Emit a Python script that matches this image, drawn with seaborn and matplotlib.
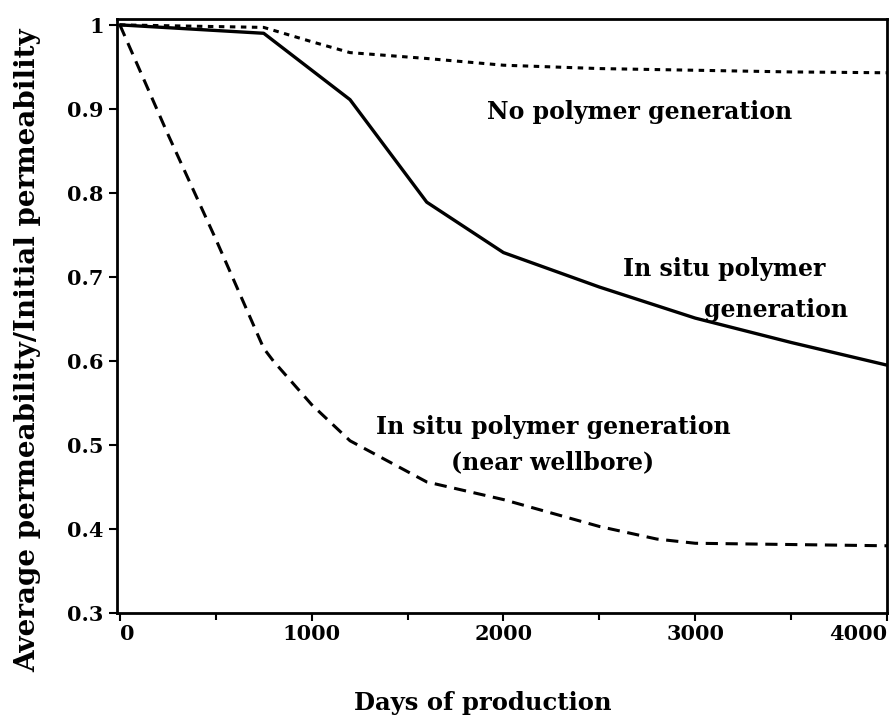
import matplotlib
matplotlib.use("Agg")
import matplotlib.pyplot as plt
import seaborn as sns
import pandas as pd
from matplotlib.ticker import MultipleLocator

# Data
days_no_polymer = [0, 750, 1000, 1200, 1600, 2000, 2500, 3000, 3500, 4000]
perm_no_polymer = [1.0, 0.997, 0.98, 0.967, 0.96, 0.952, 0.948, 0.946, 0.944, 0.943]

days_in_situ = [0, 750, 1200, 1600, 2000, 2500, 3000, 3500, 4000]
perm_in_situ = [1.0, 0.99, 0.911, 0.789, 0.729, 0.688, 0.651, 0.622, 0.595]

days_wellbore = [0, 250, 500, 750, 800, 1000, 1200, 1600, 2000, 2500, 2800, 3000, 4000]
perm_wellbore = [1.0, 0.87, 0.745, 0.615, 0.60, 0.548, 0.505, 0.456, 0.435, 0.403, 0.388, 0.383, 0.38]

x_ticks = [0, 1000, 2000, 3000, 4000]
y_ticks = [0.3, 0.4, 0.5, 0.6, 0.7, 0.8, 0.9, 1.0]
y_tick_labels = ["0.3", "0.4", "0.5", "0.6", "0.7", "0.8", "0.9", "1"]

sns.set_style("ticks", {"text.color": "black", "axes.labelcolor": "black",
                        "xtick.color": "black", "ytick.color": "black",
                        "axes.edgecolor": "black"})
plt.rcParams['font.family'] = ['DejaVu Serif', 'DejaVu Sans']
plt.rcParams['font.weight'] = 'bold'

fig = plt.figure(figsize=(8.96, 7.21), dpi=100)
ax = fig.add_axes([117 / 896, 1 - 613 / 721, (887 - 117) / 896, (613 - 19) / 721])

df_a = pd.DataFrame({"days": days_no_polymer, "perm": perm_no_polymer})
df_b = pd.DataFrame({"days": days_in_situ, "perm": perm_in_situ})
df_c = pd.DataFrame({"days": days_wellbore, "perm": perm_wellbore})

sns.lineplot(data=df_a, x="days", y="perm", ax=ax, color="black", lw=2.2,
             linestyle=(0, (1.8, 1.8)))
sns.lineplot(data=df_b, x="days", y="perm", ax=ax, color="black", lw=2.4)
sns.lineplot(data=df_c, x="days", y="perm", ax=ax, color="black", lw=2.2,
             linestyle=(0, (4, 2.5)))

ax.set_xlim(-15, 4000)
ax.set_ylim(0.3, 1.007)
ax.set_xticks(x_ticks)
ax.set_xticklabels([str(t) for t in x_ticks], fontsize=15, fontweight="bold")
ax.get_xticklabels()[-1].set_ha("right")
ax.get_xticklabels()[0].set_ha("left")
ax.xaxis.set_minor_locator(MultipleLocator(500))
ax.set_yticks(y_ticks)
ax.set_yticklabels(y_tick_labels, fontsize=15, fontweight="bold")
ax.tick_params(axis="both", which="major", direction="out", length=6, width=1.5,
               color="black", labelcolor="black")
ax.tick_params(axis="x", which="major", pad=2)
ax.tick_params(axis="x", which="minor", direction="out", length=5, width=1.5, color="black")
for side in ["left", "right", "top", "bottom"]:
    ax.spines[side].set_visible(True)
    ax.spines[side].set_linewidth(2)
    ax.spines[side].set_color("black")

ax.set_xlabel("Days of production", fontsize=17.5, fontweight="bold", color="black")
ax.xaxis.set_label_coords((483 - 117) / 770, -(703 - 613) / 594, transform=ax.transAxes)
ax.xaxis.label.set_va("center")
ax.set_ylabel("Average permeability/Initial permeability", fontsize=20,
              fontweight="bold", color="black")
ax.yaxis.set_label_coords(-(117 - 28) / 770, (613 - 350) / 594, transform=ax.transAxes)
ax.yaxis.label.set_va("center")

ax.text(2712, 0.896, "No polymer generation", ha="center", va="center",
        fontsize=17, fontweight="bold", color="black")
ax.text(3677, 0.709, "In situ polymer", ha="right", va="center",
        fontsize=17, fontweight="bold", color="black")
ax.text(3797, 0.661, "generation", ha="right", va="center",
        fontsize=17, fontweight="bold", color="black")
ax.text(2258, 0.521, "In situ polymer generation", ha="center", va="center",
        fontsize=17, fontweight="bold", color="black")
ax.text(2258, 0.479, "(near wellbore)", ha="center", va="center",
        fontsize=17, fontweight="bold", color="black")

fig.savefig("out.png", dpi=100)
